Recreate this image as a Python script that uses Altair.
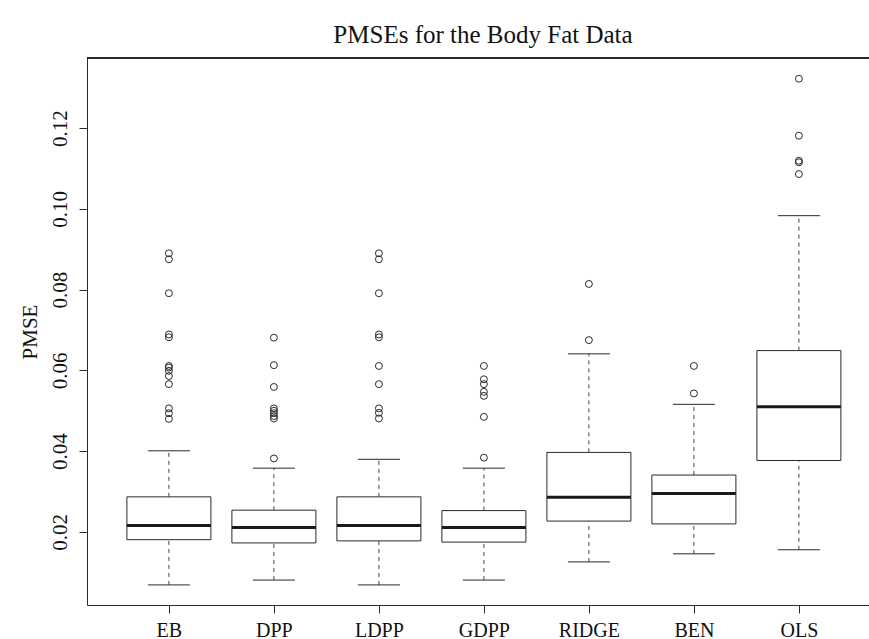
import altair as alt
import pandas as pd

methods = ["EB", "DPP", "LDPP", "GDPP", "RIDGE", "BEN", "OLS"]
lower_whisker = [0.0069, 0.0081, 0.0069, 0.0081, 0.0126, 0.0146, 0.0156]
q1 = [0.0181, 0.0173, 0.0178, 0.0175, 0.0227, 0.0220, 0.0377]
median = [0.0216, 0.0211, 0.0216, 0.0211, 0.0286, 0.0295, 0.0510]
q3 = [0.0287, 0.0254, 0.0287, 0.0253, 0.0397, 0.0341, 0.0649]
upper_whisker = [0.0401, 0.0358, 0.0380, 0.0358, 0.0641, 0.0516, 0.0983]

eb_outliers = [0.0890, 0.0875, 0.0791, 0.0689, 0.0682, 0.0611, 0.0607, 0.0599,
               0.0586, 0.0566, 0.0506, 0.0494, 0.0480]
dpp_outliers = [0.0681, 0.0613, 0.0559, 0.0506, 0.0500, 0.0494, 0.0487, 0.0481, 0.0382]
ldpp_outliers = [0.0890, 0.0875, 0.0791, 0.0689, 0.0682, 0.0611, 0.0566, 0.0506,
                 0.0495, 0.0481]
gdpp_outliers = [0.0611, 0.0578, 0.0566, 0.0547, 0.0537, 0.0485, 0.0384]
ridge_outliers = [0.0814, 0.0675]
ben_outliers = [0.0611, 0.0543]
ols_outliers = [0.1322, 0.1181, 0.1119, 0.1115, 0.1086]

y_ticks = [0.02, 0.04, 0.06, 0.08, 0.10, 0.12]

all_outliers = [eb_outliers, dpp_outliers, ldpp_outliers, gdpp_outliers,
                ridge_outliers, ben_outliers, ols_outliers]

stats = pd.DataFrame({
    "method": methods,
    "idx": list(range(1, len(methods) + 1)),
    "lower": lower_whisker,
    "q1": q1,
    "median": median,
    "q3": q3,
    "upper": upper_whisker,
})
out_rows = []
for i, (m, vals) in enumerate(zip(methods, all_outliers)):
    for v in vals:
        out_rows.append({"method": m, "idx": i + 1, "value": v})
outs = pd.DataFrame(out_rows)

W = 782
H = 547
FONT = "Liberation Serif"
LINE = "#2a2a2a"

xscale = alt.Scale(domain=[0.22, 0.22 + W / 105.0], nice=False, zero=False)
yscale = alt.Scale(domain=[0.00193, 0.13733], nice=False, zero=False)

label_expr = "[" + ",".join("'%s'" % m for m in methods) + "][datum.value - 1]"

xaxis = alt.Axis(values=list(range(1, len(methods) + 1)), labelExpr=label_expr,
                 title=None, grid=False, tickSize=8, labelPadding=23,
                 labelFont=FONT, labelFontSize=20, labelColor="#111",
                 domainColor=LINE, tickColor=LINE, labelBaseline="alphabetic")
yaxis = alt.Axis(values=y_ticks, format=".2f", title="PMSE", grid=False,
                 tickSize=8, labelPadding=9, labelAngle=270, labelAlign="center",
                 labelBaseline="bottom", labelFont=FONT, labelFontSize=21,
                 labelColor="#111", domainColor=LINE, tickColor=LINE,
                 titleFont=FONT, titleFontSize=21, titleFontWeight="normal",
                 titleColor="#111", titleX=-57, titleBaseline="middle")


def X(f):
    return alt.X(f, type="quantitative", scale=xscale, axis=xaxis)


def Y(f):
    return alt.Y(f, type="quantitative", scale=yscale, axis=yaxis)


base = alt.Chart(stats).transform_calculate(
    bl="datum.idx - 0.4", br="datum.idx + 0.4",
    cl="datum.idx - 0.2", cr="datum.idx + 0.2")

whisk_up = base.mark_rule(color="#444", strokeWidth=1, strokeDash=[4, 4]).encode(
    x=X("idx"), y=Y("q3"), y2="upper:Q")
whisk_lo = base.mark_rule(color="#444", strokeWidth=1, strokeDash=[4, 4]).encode(
    x=X("idx"), y=Y("lower"), y2="q1:Q")
cap_up = base.mark_rule(color=LINE, strokeWidth=1).encode(
    x=X("cl"), x2="cr:Q", y=Y("upper"))
cap_lo = base.mark_rule(color=LINE, strokeWidth=1).encode(
    x=X("cl"), x2="cr:Q", y=Y("lower"))
box = base.mark_rect(fill="white", stroke=LINE, strokeWidth=1).encode(
    x=X("bl"), x2="br:Q", y=Y("q1"), y2="q3:Q")
med = base.mark_rule(color="#1a1a1a", strokeWidth=3).encode(
    x=X("bl"), x2="br:Q", y=Y("median"))
pts = alt.Chart(outs).mark_point(shape="circle", filled=False, size=48,
                                  color=LINE, strokeWidth=1, opacity=1).encode(
    x=X("idx"), y=Y("value"))
top = alt.Chart(stats).mark_rule(color=LINE, strokeWidth=1).encode(
    x=alt.value(0), x2=alt.value(W), y=alt.value(0))

chart = alt.layer(whisk_up, whisk_lo, cap_up, cap_lo, box, med, pts, top).properties(
    width=W, height=H,
    title=alt.TitleParams("PMSEs for the Body Fat Data", font=FONT, fontSize=25,
                          fontWeight="normal", color="#111", anchor="middle",
                          frame="group", dx=5, offset=10),
    autosize=alt.AutoSizeParams(type="none"),
    padding={"left": 87, "top": 58, "right": 0, "bottom": 34},
).configure_view(stroke=None).configure(background="white")

chart.save("out.html", embed_options={"renderer": "svg", "actions": False})
